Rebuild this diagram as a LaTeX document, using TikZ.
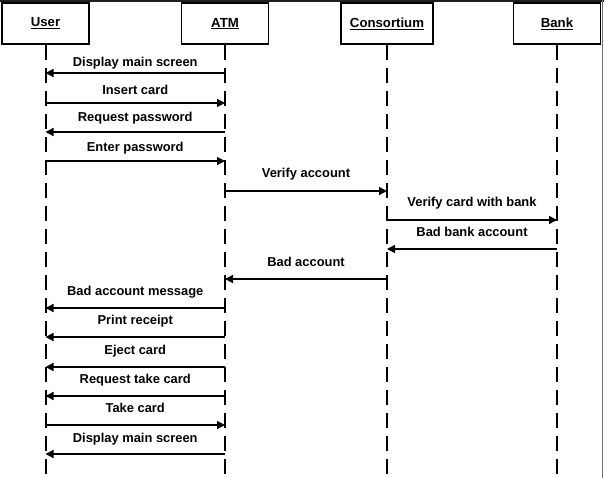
\documentclass[tikz,border=0pt]{standalone}
\usepackage{fontspec}
\setmainfont{Liberation Sans}
\usetikzlibrary{arrows.meta}
\begin{document}
\begin{tikzpicture}[x=1pt,y=-1pt,
  actor/.style={draw,line width=1.6pt,minimum width=87pt,minimum height=41pt,inner sep=0pt,font=\bfseries\fontsize{13.2}{14}\selectfont},
  life/.style={line width=2pt,dash pattern=on 15pt off 8pt},
  msg/.style={line width=1.4pt,-{Triangle[length=8pt,width=8pt]}},
  lbl/.style={font=\bfseries\fontsize{12.9}{15}\selectfont,anchor=base,inner sep=0pt}]
\useasboundingbox (0,0) rectangle (604,478);
\fill[black!88] (0,0) rectangle (604,2.5);
\draw[black!55,line width=1.2pt] (602.6,0) -- (602.6,478);
\node[actor] (u) at (45.5,23.5) {\underline{User}};
\node[actor] (a) at (225,23.5) {\underline{ATM}};
\node[actor,minimum width=92pt] (c) at (387,23.5) {\underline{Consortium}};
\node[actor] (b) at (557,23.5) {\underline{Bank}};
\coordinate (ue) at (u |- 0,478);
\coordinate (ae) at (a |- 0,478);
\coordinate (ce) at (c |- 0,478);
\coordinate (be) at (b |- 0,478);
\draw[life] (u.south) -- (ue);
\draw[life] (a.south) -- (ae);
\draw[life] (c.south) -- (ce);
\draw[life] (b.south) -- (be);
\newcommand\seqmsg[5]{\draw[msg] (#1 |- 0,#3) -- node[lbl,yshift={(#3-#4-5)*1pt}]{#5} (#2 |- 0,#3);}
\seqmsg{a}{u}{73}{62}{Display main screen}
\seqmsg{u}{a}{103}{90}{Insert card}
\seqmsg{a}{u}{132}{117}{Request password}
\seqmsg{u}{a}{161}{147}{Enter password}
\seqmsg{a}{c}{191}{173}{Verify account}
\seqmsg{c}{b}{220}{202}{Verify card with bank}
\seqmsg{b}{c}{249}{231}{Bad bank account}
\seqmsg{c}{a}{279}{261}{Bad account}
\seqmsg{a}{u}{308}{290}{Bad account message}
\seqmsg{a}{u}{337}{319}{Print receipt}
\seqmsg{a}{u}{367}{349}{Eject card}
\seqmsg{a}{u}{396}{378}{Request take card}
\seqmsg{u}{a}{425}{407}{Take card}
\seqmsg{a}{u}{454}{437}{Display main screen}
\end{tikzpicture}
\end{document}
